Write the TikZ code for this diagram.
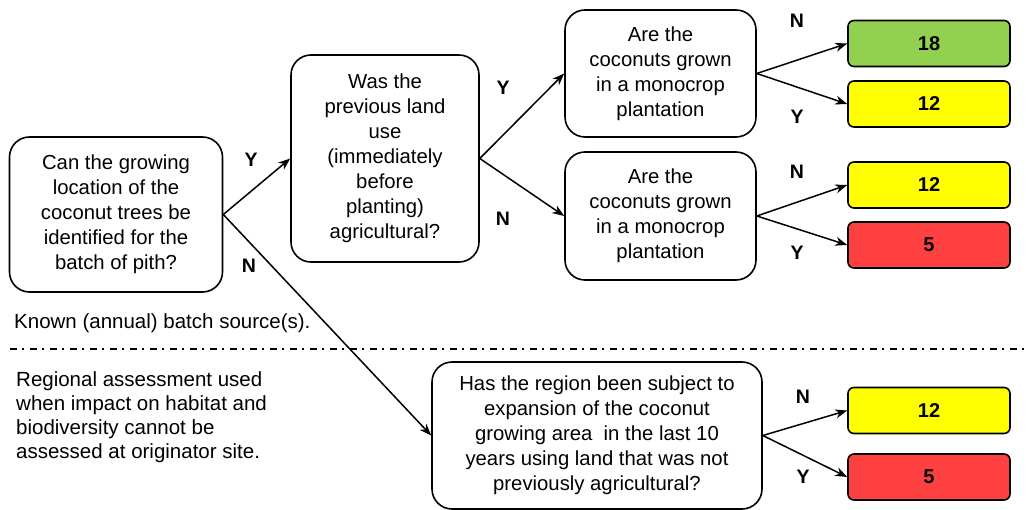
\documentclass[tikz,border=0pt]{standalone}
\usepackage{fontspec}
\setmainfont{Liberation Sans}
\usetikzlibrary{arrows.meta}
\definecolor{resgreen}{RGB}{146,208,80}
\definecolor{resyellow}{RGB}{255,255,0}
\definecolor{resred}{RGB}{255,64,64}
\begin{document}
\begin{tikzpicture}[x=1pt,y=-1pt,
  question/.style={draw=black,line width=1.6pt,rounded corners=20pt,fill=white,
    align=center,inner sep=0pt,font=\fontsize{20.3}{25}\selectfont},
  result/.style={draw=black,line width=1.6pt,rounded corners=6pt,
    minimum width=162pt,minimum height=46pt,inner sep=0pt,
    font=\fontsize{20}{24}\selectfont\bfseries},
  answer/.style={font=\fontsize{19.5}{24}\selectfont\bfseries},
  note/.style={align=left,anchor=north west,inner sep=0pt,font=\fontsize{20.5}{24}\selectfont},
  link/.style={line width=1.5pt,-{Stealth[length=12pt,width=9pt]}}]
\useasboundingbox (0,0) rectangle (1030,510);

% question boxes
\node[question,minimum width=213pt,minimum height=155pt] (qa) at (116,214.5)
  {Can the growing\\location of the\\coconut trees be\\identified for the\\batch of pith?};
\node[question,minimum width=188pt,minimum height=207pt] (qb) at (385,158.5)
  {Was the\\previous land\\use\\(immediately\\before\\planting)\\agricultural?};
\node[question,minimum width=191pt,minimum height=127pt] (qc) at (660.5,73.5)
  {Are the\\coconuts grown\\in a monocrop\\plantation};
\node[question,minimum width=191pt,minimum height=128pt] (qd) at (660.5,216)
  {Are the\\coconuts grown\\in a monocrop\\plantation};
\node[question,minimum width=330pt,minimum height=147pt] (qe) at (597,435.5)
  {Has the region been subject to\\expansion of the coconut\\growing area\ \ in the last 10\\years using land that was not\\previously agricultural?};

% result boxes
\node[result,fill=resgreen]  (r1) at (929,43.5) {18};
\node[result,fill=resyellow] (r2) at (929,104)  {12};
\node[result,fill=resyellow] (r3) at (929,185)  {12};
\node[result,fill=resred]    (r4) at (929,245)  {5};
\node[result,fill=resyellow] (r5) at (929,410.5){12};
\node[result,fill=resred]    (r6) at (929,477)  {5};

% connectors
\draw[link] (qa.east) -- (qb.west);
\draw[link] (qa.east) -- (qe.west);
\draw[link] (qb.east) -- (qc.west);
\draw[link] (qb.east) -- (qd.west);
\draw[link] (qc.east) -- (r1.west);
\draw[link] (qc.east) -- (r2.west);
\draw[link] (qd.east) -- (r3.west);
\draw[link] (qd.east) -- (r4.west);
\draw[link] (qe.east) -- (r5.west);
\draw[link] (qe.east) -- (r6.west);

% branch labels
\node[answer] (ya) at (251,160) {Y};
\node[answer] (na) at (249,266) {N};
\node[answer] (yb) at (503,88)  {Y};
\node[answer] (nb) at (503,219) {N};
\node[answer] (nc) at (797,21)  {N};
\node[answer] (yc) at (797,117) {Y};
\node[answer] (nd) at (797,172) {N};
\node[answer] (yd) at (797,253) {Y};
\node[answer] (ne) at (803,397) {N};
\node[answer] (ye) at (803,477) {Y};

% separator between known source and regional assessment
\coordinate (sepl) at (10,349);
\coordinate (sepr) at (1030,349);
\draw[line width=1.6pt,dash pattern=on 7pt off 5pt on 2pt off 6pt] (sepl) -- (sepr);

% side notes
\node[note] (known) at (14,313) {Known (annual) batch source(s).};
\node[note] (regional) at (16,371)
  {Regional assessment used\\when impact on habitat and\\biodiversity cannot be\\assessed at originator site.};
\end{tikzpicture}
\end{document}
